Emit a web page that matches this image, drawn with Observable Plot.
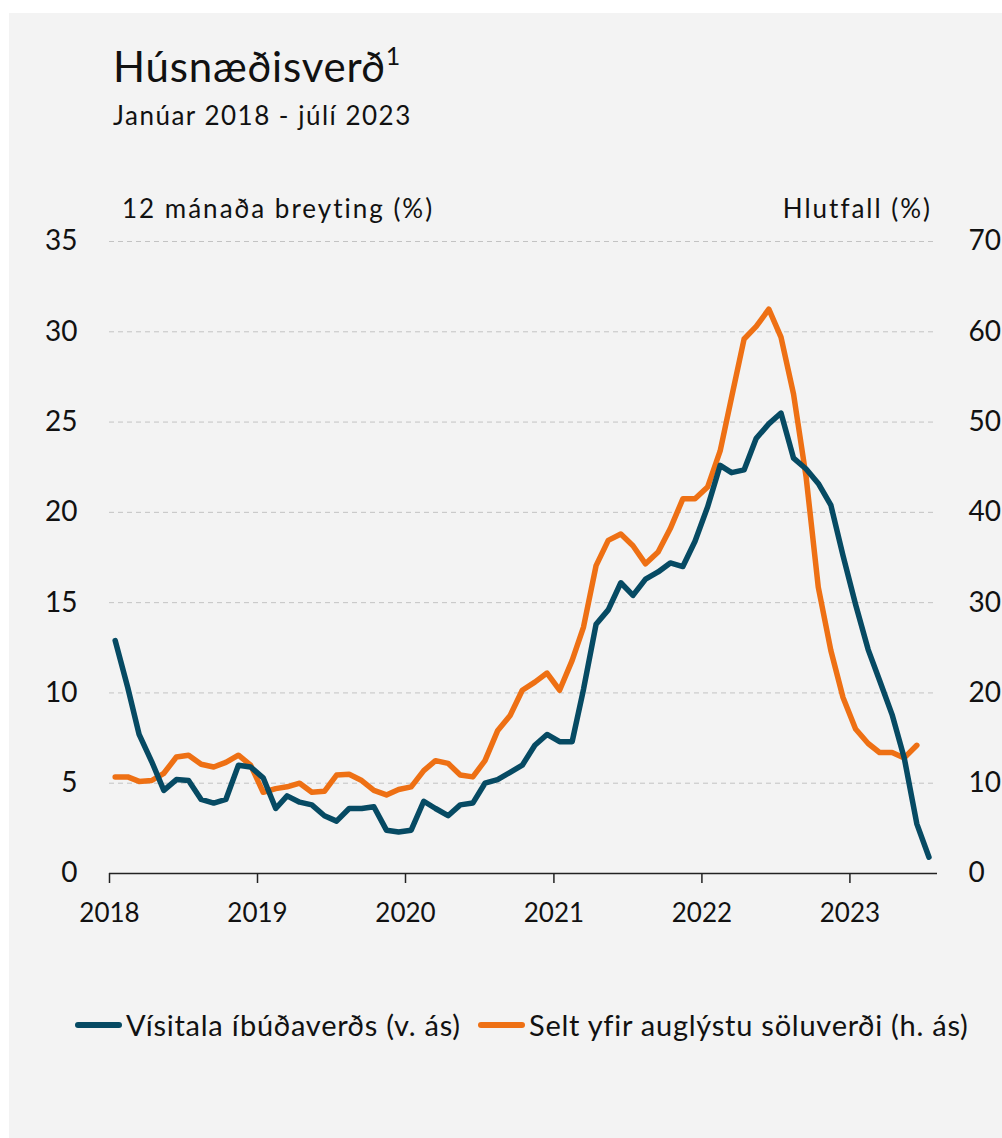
<!DOCTYPE html>
<html>
<head>
<meta charset="utf-8">
<script src="https://cdn.jsdelivr.net/npm/d3@7"></script>
<script src="https://cdn.jsdelivr.net/npm/@observablehq/plot@0.6"></script>
<style>
  html, body { margin: 0; padding: 0; background: #ffffff; }
  body { width: 1002px; height: 1138px; position: relative; overflow: hidden; font-family: Lato, "Open Sans", sans-serif; color: #111; }
  #frame { position: absolute; left: 9px; top: 13px; width: 993px; height: 1125px; background: #f3f3f3; }
  .t { position: absolute; white-space: nowrap; line-height: 1; color: #111; }
  #chart { position: absolute; left: 0; top: 200px; }
  .leg { position: absolute; display: flex; align-items: center; white-space: nowrap; font-size: 29px; line-height: 1; color: #111; letter-spacing: 0.75px; }
  .sw { width: 47px; height: 6px; border-radius: 3px; margin-right: 4px; }
</style>
</head>
<body>
<div id="frame"></div>
<div class="t" id="title" style="left:113px; top:45px; font-size:42px; letter-spacing:0.8px;">Húsnæðisverð<span style="font-size:25px; position:relative; top:-17px;">1</span></div>
<div class="t" id="subtitle" style="left:113px; top:102px; font-size:26px; letter-spacing:1.5px;">Janúar 2018 - júlí 2023</div>
<div class="t" id="ylabL" style="left:122px; top:195px; font-size:26px; letter-spacing:2px;">12 mánaða breyting (%)</div>
<div class="t" id="ylabR" style="right:70px; top:195px; font-size:26px; letter-spacing:2px;">Hlutfall (%)</div>
<div id="chart"></div>
<div class="leg" style="left:75px; top:1010px;"><div class="sw" style="background:#064a63"></div><span>Vísitala íbúðaverðs (v. ás)</span></div>
<div class="leg" style="left:478px; top:1010px;"><div class="sw" style="background:#ee7014"></div><span>Selt yfir auglýstu söluverði (h. ás)</span></div>
<script>
// Monthly data, January 2018 onward
// Vísitala íbúðaverðs, 12 mánaða breyting (%), left axis (Jan 2018 - Jul 2023)
const visitala = [
  12.9, 10.3, 7.7, 6.2, 4.6, 5.2, 5.15, 4.1, 3.9, 4.1, 6.0, 5.9,
  5.3, 3.6, 4.3, 3.95, 3.8, 3.2, 2.9, 3.6, 3.6, 3.7, 2.4, 2.3,
  2.4, 4.0, 3.6, 3.2, 3.8, 3.9, 5.0, 5.2, 5.6, 6.0, 7.1, 7.7,
  7.3, 7.3, 10.2, 13.8, 14.6, 16.1, 15.4, 16.3, 16.7, 17.2, 17.0, 18.4,
  20.3, 22.6, 22.2, 22.35, 24.1, 24.9, 25.5, 23.0, 22.4, 21.6, 20.4, 17.6,
  14.9, 12.4, 10.7, 8.8, 6.4, 2.75, 0.9
];
// Selt yfir auglýstu söluverði, hlutfall (%), right axis (Jan 2018 - Jun 2023)
const seltYfir = [
  10.7, 10.7, 10.2, 10.3, 11.1, 12.9, 13.1, 12.1, 11.8, 12.3, 13.1, 12.0,
  9.0, 9.4, 9.6, 10.0, 9.0, 9.1, 10.9, 11.0, 10.3, 9.2, 8.7, 9.3,
  9.6, 11.4, 12.5, 12.2, 10.9, 10.7, 12.5, 15.8, 17.5, 20.3, 21.2, 22.2,
  20.3, 23.6, 27.3, 34.1, 36.9, 37.6, 36.3, 34.3, 35.6, 38.2, 41.5, 41.5,
  42.8, 46.8, 52.7, 59.2, 60.6, 62.5, 59.4, 53.1, 43.9, 31.7, 24.7, 19.5,
  16.0, 14.4, 13.4, 13.4, 12.8, 14.2
];
const leftTicks = [0, 5, 10, 15, 20, 25, 30, 35];
const rightTicks = [0, 10, 20, 30, 40, 50, 60, 70];
const years = [2018, 2019, 2020, 2021, 2022, 2023];
const startYear = 2018;

const monthDate = i => new Date(Date.UTC(startYear, i, 15));
const blueData = visitala.map((v, i) => ({date: monthDate(i), v}));
const orangeData = seltYfir.map((v, i) => ({date: monthDate(i), v}));
const yearDates = years.map(y => new Date(Date.UTC(y, 0, 1)));
const ratio = rightTicks[rightTicks.length - 1] / leftTicks[leftTicks.length - 1];

const plot = Plot.plot({
  width: 1002,
  height: 740,
  marginLeft: 109,
  marginRight: 65,
  marginTop: 41,
  marginBottom: 67,
  style: {background: "transparent", fontFamily: "Lato, 'Open Sans', sans-serif", fontSize: "28px", color: "#111", overflow: "visible"},
  x: {type: "utc", domain: [new Date(Date.UTC(2018, 0, 1)), new Date(Date.UTC(2023, 7, 5))]},
  y: {domain: [leftTicks[0], leftTicks[leftTicks.length - 1]]},
  marks: [
    Plot.gridY(leftTicks.filter(d => d > 0), {stroke: "#c3c3c3", strokeOpacity: 1, strokeWidth: 1, strokeDasharray: "5,4"}),
    Plot.axisY(leftTicks, {anchor: "left", tickSize: 0, tickPadding: 32, label: null}),
    Plot.axisY(leftTicks, {anchor: "right", tickSize: 0, tickPadding: 31, label: null, tickFormat: (d) => rightTicks[leftTicks.indexOf(d)]}),
    Plot.axisX(yearDates, {anchor: "bottom", tickSize: 10, tickPadding: 20, label: null, stroke: "#222", strokeWidth: 1.5, fontSize: 26, tickFormat: d => String(d.getUTCFullYear())}),
    Plot.ruleY([0], {stroke: "#222", strokeWidth: 1.5}),
    Plot.line(orangeData, {x: "date", y: d => d.v / ratio, stroke: "#ee7014", strokeWidth: 5.5, strokeLinejoin: "round", strokeLinecap: "round"}),
    Plot.line(blueData, {x: "date", y: "v", stroke: "#064a63", strokeWidth: 5.5, strokeLinejoin: "round", strokeLinecap: "round"})
  ]
});
document.getElementById("chart").appendChild(plot);
</script>
</body>
</html>
